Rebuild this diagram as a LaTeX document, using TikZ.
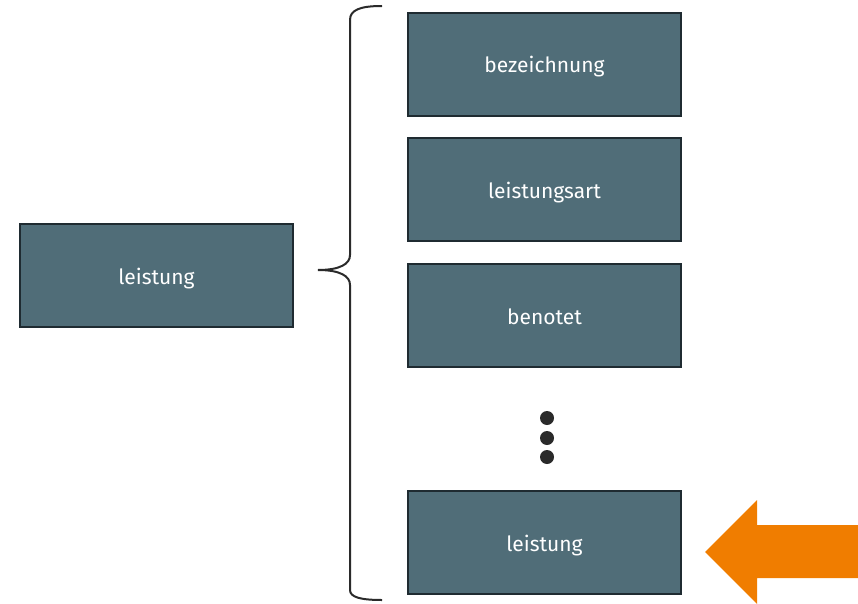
\documentclass[tikz,border=0pt]{standalone}
\usepackage{fontspec}
\setmainfont{Fira Sans}
\definecolor{boxfill}{HTML}{506D78}
\definecolor{boxline}{HTML}{1F2B31}
\definecolor{orangearrow}{HTML}{F07D00}
\definecolor{bracecol}{HTML}{2A2A2A}
\begin{document}
\begin{tikzpicture}[x=1pt,y=-1pt,
  entity/.style={draw=boxline,line width=2pt,fill=boxfill,text=white,minimum width=273pt,minimum height=103pt,inner sep=0pt,font=\fontsize{21}{24}\selectfont,
    text height=17pt,text depth=0pt},
  dotstyle/.style={fill=bracecol,circle,minimum size=14pt,inner sep=0pt}]
\useasboundingbox (0,0) rectangle (858,604);
\node[entity] (main) at (156.5,275.5) {leistung};
\node[entity] (a) at (544.5,64.5) {bezeichnung};
\node[entity] (b) at (544.5,189.5) {leistungsart};
\node[entity] (c) at (544.5,315.5) {benotet};
\node[entity] (d) at (544.5,542.5) {leistung};
\node[dotstyle] (d1) at (547,418) {};
\node[dotstyle] (d2) at (547,438) {};
\node[dotstyle] (d3) at (547,457) {};
\draw[bracecol,line width=2pt] (382,6) .. controls (360,6) and (350,10) .. (350,20)
  -- (350,255) .. controls (350,264) and (340,270) .. (318,270)
  .. controls (340,270) and (350,276) .. (350,285)
  -- (350,590) .. controls (350,597) and (360,600) .. (382,600);
\fill[orangearrow] (705,552) -- (757,500) -- (757,525) -- (858,525) -- (858,578) -- (757,578) -- (757,604) -- cycle;
\end{tikzpicture}
\end{document}
